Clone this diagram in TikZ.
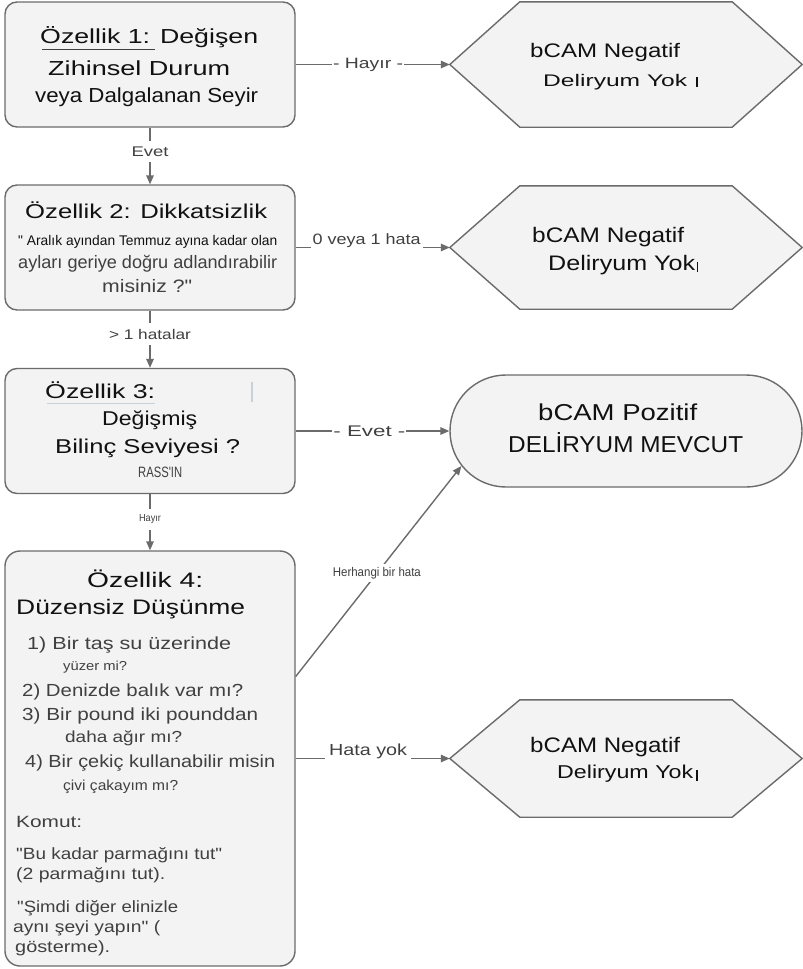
\documentclass[tikz,border=0pt]{standalone}
\usepackage{fontspec}
\usepackage{graphicx}
\setmainfont{Liberation Sans}
\usetikzlibrary{arrows.meta,shapes.misc,calc}
\definecolor{linec}{HTML}{6B6B6B}
\definecolor{boxfill}{HTML}{F3F3F3}
\definecolor{ink}{HTML}{111111}
\definecolor{soft}{HTML}{404040}
\definecolor{faint}{HTML}{C8D0D8}
\newcommand\fs[1]{\fontsize{#1}{#1}\selectfont}
% width, font size, text: text set at that size and stretched to that width
\newcommand\tx[3]{\resizebox{#1pt}{\height}{\fs{#2}#3}}
\newcommand\qd{\textquotedbl}
\tikzset{
  box/.style={draw=linec, fill=boxfill, line width=1.4pt, rounded corners=12pt,
    minimum width=290pt, inner sep=0pt},
  hexbox/.style={minimum width=352pt, inner sep=0pt, draw=none},
  hexline/.style={draw=linec, fill=boxfill, line width=1.4pt, line join=miter},
  stad/.style={rounded rectangle, draw=linec, fill=boxfill, line width=1.4pt,
    minimum width=352pt, minimum height=112pt, inner sep=0pt},
  t/.style={inner sep=0pt, anchor=base west, text=ink},
  ts/.style={inner sep=0pt, anchor=base west, text=soft},
  arr/.style={draw=linec, line width=1.4pt, -{Triangle[length=9pt,width=7.5pt]}},
  vlab/.style={fill=white, text=soft, inner xsep=2pt, inner ysep=6pt},
  hlab/.style={fill=white, text=soft, inner xsep=1pt, inner ysep=3pt},
  ulab/.style={fill=white, text=soft, inner xsep=3pt, inner ysep=3pt, anchor=base, yshift=3pt},
  cursorbar/.style={draw=ink, line width=1.2pt}
}
\begin{document}
\begin{tikzpicture}[x=1pt,y=-1pt]
\useasboundingbox (0,0) rectangle (803,969);

% left boxes
\node[box, minimum height=125pt] (b1) at (150,64.5) {};
\node[box, minimum height=125pt] (b2) at (150,247.5) {};
\node[box, minimum height=125pt] (b3) at (150,431) {};
\node[box, minimum height=415pt, rounded corners=15pt] (b4) at (150,758.5) {};

% right shapes
\node[hexbox, minimum height=125pt] (h1) at (626,64.5) {};
\draw[hexline] (h1.west) -- ([xshift=70pt]h1.north west) -- ([xshift=-70pt]h1.north east)
  -- (h1.east) -- ([xshift=-70pt]h1.south east) -- ([xshift=70pt]h1.south west) -- cycle;
\node[hexbox, minimum height=123pt] (h2) at (626,247.5) {};
\draw[hexline] (h2.west) -- ([xshift=70pt]h2.north west) -- ([xshift=-70pt]h2.north east)
  -- (h2.east) -- ([xshift=-70pt]h2.south east) -- ([xshift=70pt]h2.south west) -- cycle;
\node[stad] (s) at (626,431) {};
\node[hexbox, minimum height=117pt] (h3) at (626,758.5) {};
\draw[hexline] (h3.west) -- ([xshift=70pt]h3.north west) -- ([xshift=-70pt]h3.north east)
  -- (h3.east) -- ([xshift=-70pt]h3.south east) -- ([xshift=70pt]h3.south west) -- cycle;

% box 1 text
\node[t] (a1) at (40,43) {\tx{218}{20.3}{Özellik 1: Değişen}};
\draw[draw=soft, line width=0.9pt] (42,49.5) -- (155,49.5);
\node[t] (a2) at (48,75) {\tx{182}{20.3}{Zihinsel Durum}};
\node[t] (a3) at (35,102) {\tx{223}{20.3}{veya Dalgalanan Seyir}};

% box 2 text
\node[t] (c1) at (25,218) {\tx{242}{20}{Özellik 2: Dikkatsizlik}};
\node[t] (c2) at (18,245) {\tx{259}{14}{\qd{} Aralık ayından Temmuz ayına kadar olan}};
\node[ts] (c3) at (18,268) {\tx{259}{18}{ayları geriye doğru adlandırabilir}};
\node[ts] (c4) at (102,292) {\tx{90}{18}{misiniz ?\qd}};

% box 3 text
\node[t] (d1) at (45,398) {\tx{110}{20}{Özellik 3:}};
\draw[draw=faint, line width=0.9pt] (47,403.5) -- (155,403.5);
\draw[draw=faint, line width=1.2pt] (252,382) -- (252,402);
\node[t] (d2) at (102,425) {\tx{95}{20}{Değişmiş}};
\node[t] (d3) at (55,453) {\tx{185}{20}{Bilinç Seviyesi ?}};
\node[ts] (d4) at (138,477) {\tx{44}{15}{RASS\textquotesingle IN}};

% box 4 text
\node[t] (e1) at (87,587) {\tx{116}{21}{Özellik 4:}};
\node[t] (e2) at (16,614) {\tx{229}{21}{Düzensiz Düşünme}};
\node[ts] (e3) at (27,649) {\tx{204}{17.5}{1) Bir taş su üzerinde}};
\node[ts] (e4) at (63,670) {\tx{64}{13}{yüzer mi?}};
\node[ts] (e5) at (22,696) {\tx{221}{17.5}{2) Denizde balık var mı?}};
\node[ts] (e6) at (22,720) {\tx{236}{17.5}{3) Bir pound iki pounddan}};
\node[ts] (e7) at (65,742) {\tx{117}{16}{daha ağır mı?}};
\node[ts] (e8) at (25,767) {\tx{250}{17.5}{4) Bir çekiç kullanabilir misin}};
\node[ts] (e9) at (63,790) {\tx{115}{14.5}{çivi çakayım mı?}};
\node[ts] (e10) at (16,827) {\tx{66}{16.3}{Komut:}};
\node[ts] (e11) at (16,859) {\tx{206}{16.3}{\qd Bu kadar parmağını tut\qd}};
\node[ts] (e12) at (16,879) {\tx{149}{16.3}{(2 parmağını tut).}};
\node[ts] (e13) at (17,912) {\tx{161}{16.3}{\qd Şimdi diğer elinizle}};
\node[ts] (e14) at (13,932) {\tx{147}{16.3}{aynı şeyi yapın\qd{} (}};
\node[ts] (e15) at (15,952) {\tx{95}{16.3}{gösterme).}};

% right texts
\node[t] (f1) at (530,57) {\tx{150}{19.6}{bCAM Negatif}};
\node[t] (f2) at (543,86) {\tx{144}{16.8}{Deliryum Yok}};
\draw[draw=ink, line width=2.4pt] (697,77) -- (697,87);
\node[t] (g1) at (532,242) {\tx{152}{21}{bCAM Negatif}};
\node[t] (g2) at (548,270) {\tx{147}{21}{Deliryum Yok}};
\draw[cursorbar] (697.5,261.5) -- (697.5,272);
\node[t] (p1) at (538,420) {\tx{159}{23}{bCAM Pozitif}};
\node[t] (p2) at (508,452) {\tx{235}{23}{DELİRYUM MEVCUT}};
\node[t] (k1) at (530,752) {\tx{150}{21}{bCAM Negatif}};
\node[t] (k2) at (557,778) {\tx{136}{18.6}{Deliryum Yok}};
\draw[cursorbar] (697,770) -- (697,780.5);

% connectors
\draw[arr] (b1.south) -- node[vlab, pos=0.42]{\tx{37}{14}{Evet}} (b2.north);
\draw[arr] (b2.south) -- node[vlab, pos=0.41]{\tx{82}{14}{> 1 hatalar}} (b3.north);
\draw[arr] (b3.south) -- node[vlab, pos=0.45]{\tx{22}{10.2}{Hayır}} (b4.north);

\draw[arr] (b1.east) -- node[hlab, pos=0.47]{\tx{70}{15}{- Hayır -}} (h1.west);
\draw[arr] (b2.east) -- node[ulab, pos=0.46, inner xsep=2pt]{\tx{108}{15}{0 veya 1 hata}} (h2.west);
\draw[arr] (b3.east) -- node[hlab, pos=0.48]{\tx{72}{15.4}{- Evet -}} (s.west);
\draw[arr] ($(b4.east)+(0,-82)$) -- node[hlab, pos=0.49]{\tx{88}{12.6}{Herhangi bir hata}} (s.192);
\draw[arr] (b4.east) -- node[ulab, pos=0.47, inner xsep=4pt]{\tx{78}{16}{Hata yok}} (h3.west);
\end{tikzpicture}
\end{document}
